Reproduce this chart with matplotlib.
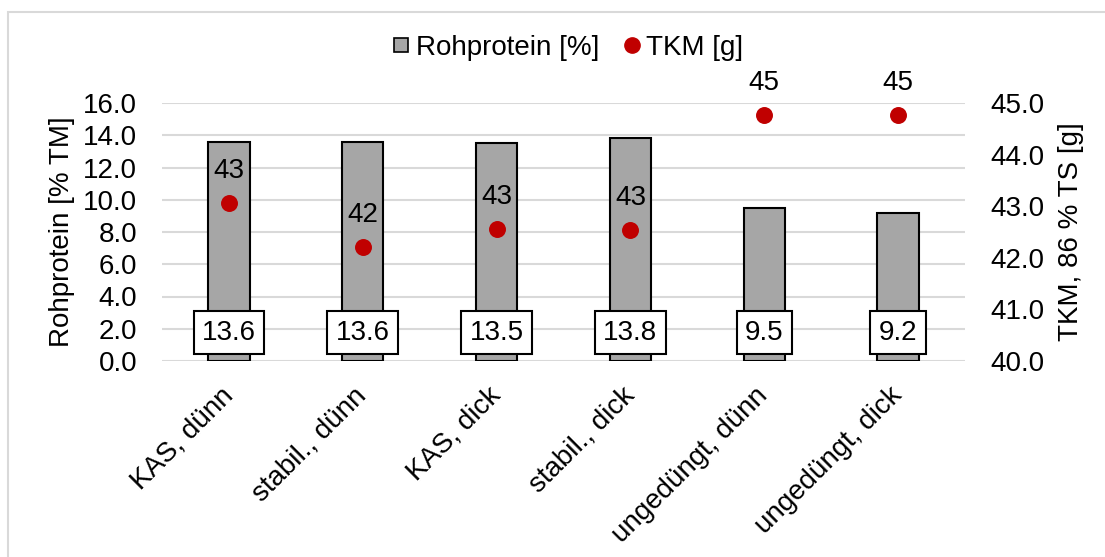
import numpy as np
import matplotlib.pyplot as plt
from matplotlib.patches import Rectangle
from matplotlib.lines import Line2D

plt.rcParams['font.family'] = ['Liberation Sans', 'DejaVu Sans']

categories = ["KAS, dünn", "stabil., dünn", "KAS, dick", "stabil., dick",
              "ungedüngt, dünn", "ungedüngt, dick"]
rohprotein = [13.6, 13.6, 13.5, 13.8, 9.5, 9.2]
tkm = [43.06, 42.21, 42.56, 42.54, 44.77, 44.77]

fs = 20
bar_col = '#A6A6A6'
dot_col = '#C00000'
grid_col = '#D9D9D9'

fig = plt.figure(figsize=(11.05, 5.57), dpi=100)
ax = fig.add_axes([162/1105, 1 - 361/557, (965 - 162)/1105, (361 - 103)/557])
ax2 = ax.twinx()

x = np.arange(len(categories))
ax.bar(x, rohprotein, width=0.31, color=bar_col, edgecolor='black', linewidth=1.5, zorder=2)
ax.set_xlim(-0.5, len(categories) - 0.5)
ax.set_ylim(0, 16)
ax.set_yticks(np.arange(0, 16.1, 2))
ax.set_yticklabels([f"{v:.1f}" for v in np.arange(0, 16.1, 2)])
ax.yaxis.grid(True, color=grid_col, linewidth=1.5, zorder=0)
ax.set_axisbelow(True)

# value boxes near the bottom of each bar
for xi, v in zip(x, rohprotein):
    ax.text(xi, 1.75, f"{v:.1f}", ha='center', va='center', fontsize=fs, zorder=5,
            bbox=dict(boxstyle='square,pad=0.3', facecolor='white', edgecolor='black', linewidth=1.5))

ax2.scatter(x, tkm, s=125, color=dot_col, zorder=3)
ax2.set_ylim(40, 45)
ax2.set_yticks(np.arange(40, 45.1, 1))
ax2.set_yticklabels([f"{v:.1f}" for v in np.arange(40, 45.1, 1)])
for xi, v in zip(x, tkm):
    ax2.annotate(f"{v:.0f}", (xi, v), xytext=(0, 23), textcoords='offset points',
                 ha='center', va='center', fontsize=fs)

for a in (ax, ax2):
    for s in a.spines.values():
        s.set_visible(False)
    a.tick_params(axis='y', length=0, labelsize=fs, pad=18)

ax.set_xticks(x)
ax.set_xticklabels(categories, rotation=45, ha='right', va='center', rotation_mode='anchor', fontsize=fs)
ax.tick_params(axis='x', length=0, pad=22)

ax.set_ylabel("Rohprotein [% TM]", fontsize=fs, labelpad=6)
ax2.set_ylabel("TKM, 86 % TS [g]", fontsize=fs, labelpad=10)

handles = [
    Line2D([], [], marker='s', linestyle='none', markersize=10.5, markerfacecolor=bar_col,
           markeredgecolor='black', markeredgewidth=1.2),
    Line2D([], [], marker='o', linestyle='none', markersize=11, markerfacecolor=dot_col,
           markeredgecolor=dot_col),
]
fig.legend(handles, ["Rohprotein [%]", "TKM [g]"], loc='center', ncol=2,
           bbox_to_anchor=(0.5145, 1 - 48/557), frameon=False, fontsize=fs,
           handlelength=0.55, handletextpad=0.25, columnspacing=0.9)

fig.patches.append(Rectangle((8/1105, -0.2), 1.5, 1 - 12/557 + 0.2, transform=fig.transFigure,
                             fill=False, edgecolor=grid_col, linewidth=1.5))

fig.savefig("out.png", dpi=100)
